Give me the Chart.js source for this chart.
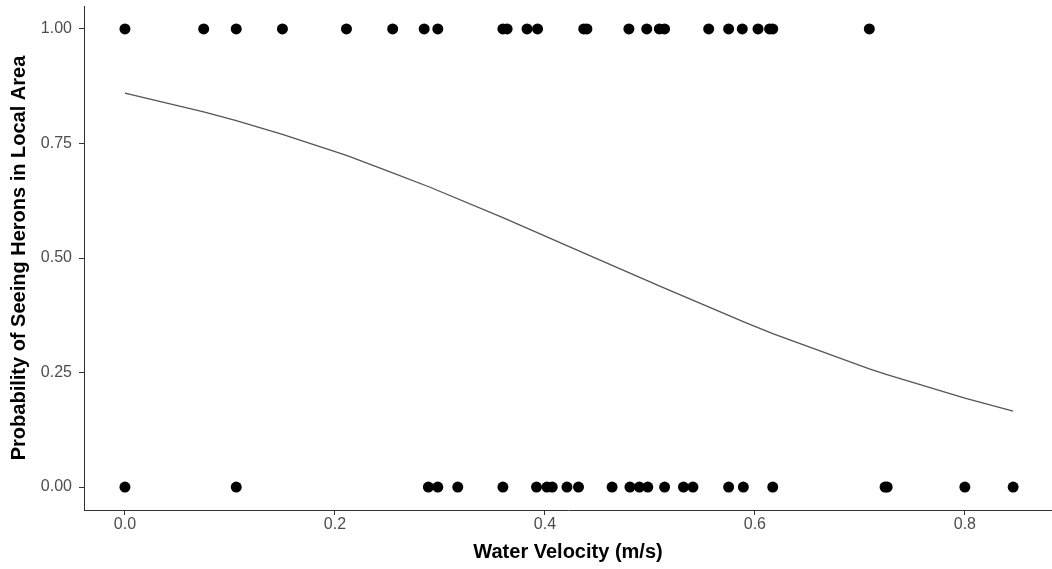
<!DOCTYPE html>
<html>
<head>
<meta charset="utf-8">
<script src="https://cdn.jsdelivr.net/npm/chart.js@4/dist/chart.umd.min.js"></script>
<style>
  html, body { margin: 0; padding: 0; background: #fff; }
  #wrap { width: 1052px; height: 569px; position: relative; }
</style>
</head>
<body>
<div id="wrap"><canvas id="c" width="1052" height="569"></canvas></div>
<script>
// Observed data: water velocity (m/s) where herons were seen (1) or not seen (0)
const seenVelocity = [0.000, 0.075, 0.106, 0.150, 0.211, 0.255, 0.285, 0.298, 0.360, 0.364,
  0.383, 0.393, 0.437, 0.440, 0.480, 0.497, 0.509, 0.514, 0.556, 0.575, 0.588, 0.603,
  0.614, 0.617, 0.709];
const notSeenVelocity = [0.000, 0.106, 0.289, 0.298, 0.317, 0.360, 0.392, 0.402, 0.407,
  0.421, 0.432, 0.464, 0.481, 0.490, 0.498, 0.514, 0.532, 0.541, 0.575, 0.589, 0.617,
  0.724, 0.726, 0.800, 0.846];

// Fitted probability curve
const curveVelocity = [0.000, 0.075, 0.106, 0.150, 0.211, 0.255, 0.290, 0.360, 0.440,
  0.510, 0.590, 0.617, 0.709, 0.725, 0.800, 0.846];
const curveProbability = [0.860, 0.819, 0.800, 0.770, 0.724, 0.686, 0.655, 0.588, 0.508,
  0.438, 0.360, 0.335, 0.258, 0.246, 0.194, 0.166];

const xTicks = [0, 0.2, 0.4, 0.6, 0.8];
const yTicks = [0, 0.25, 0.5, 0.75, 1];

const pts = seenVelocity.map(v => ({x: v, y: 1}))
  .concat(notSeenVelocity.map(v => ({x: v, y: 0})));
const curve = curveVelocity.map((v, i) => ({x: v, y: curveProbability[i]}));

const tickFont = {family: "'Liberation Sans', Arial, sans-serif", size: 16};
const titleFont = {family: "'Liberation Sans', Arial, sans-serif", size: 20, weight: 'bold'};

new Chart(document.getElementById('c'), {
  type: 'scatter',
  data: {
    datasets: [
      {
        type: 'line',
        data: curve,
        borderColor: '#555555',
        borderWidth: 1.3,
        pointRadius: 0,
        fill: false,
        tension: 0,
        order: 2
      },
      {
        data: pts,
        backgroundColor: '#000000',
        borderColor: '#000000',
        pointRadius: 5.5,
        pointHoverRadius: 5.5,
        borderWidth: 0,
        order: 1
      }
    ]
  },
  options: {
    responsive: false,
    animation: false,
    devicePixelRatio: 1,
    layout: { autoPadding: false, padding: { top: 6, left: 0, right: 0, bottom: 0 } },
    plugins: { legend: { display: false }, tooltip: { enabled: false } },
    scales: {
      x: {
        type: 'linear',
        min: -0.039,
        max: 0.883,
        afterBuildTicks: s => { s.ticks = xTicks.map(v => ({value: v})); },
        afterFit: s => { s.height = 59; s.paddingLeft = 0; s.paddingRight = 0; },
        ticks: {
          color: '#4d4d4d',
          font: tickFont,
          padding: 0,
          maxRotation: 0,
          callback: v => Number(v).toFixed(1)
        },
        grid: { drawOnChartArea: false, drawTicks: true, tickLength: 5, color: '#333333' },
        border: { display: true, color: '#333333', width: 1 },
        title: {
          display: true,
          text: 'Water Velocity (m/s)',
          color: '#000000',
          font: titleFont,
          padding: { top: 4, bottom: 5 }
        }
      },
      y: {
        type: 'linear',
        min: -0.05,
        max: 1.05,
        afterBuildTicks: s => { s.ticks = yTicks.map(v => ({value: v})); },
        afterFit: s => { s.width = 84; s.paddingTop = 0; s.paddingBottom = 0; },
        ticks: {
          color: '#4d4d4d',
          font: tickFont,
          padding: 7,
          callback: v => Number(v).toFixed(2)
        },
        grid: { drawOnChartArea: false, drawTicks: true, tickLength: 5, color: '#333333' },
        border: { display: true, color: '#333333', width: 1 },
        title: {
          display: true,
          text: 'Probability of Seeing Herons in Local Area',
          color: '#000000',
          font: titleFont,
          padding: { top: 7, bottom: 4 }
        }
      }
    }
  }
});
</script>
</body>
</html>
